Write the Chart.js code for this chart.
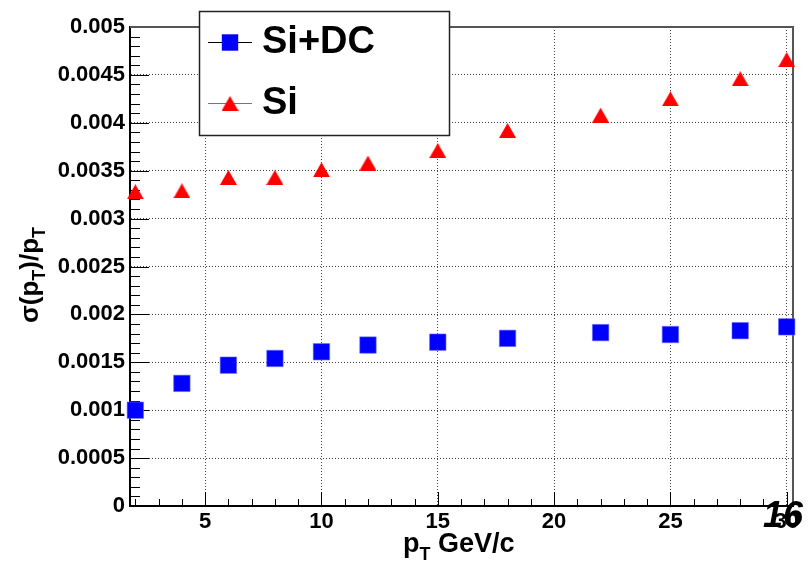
<!DOCTYPE html>
<html>
<head>
<meta charset="utf-8">
<script src="https://cdn.jsdelivr.net/npm/chart.js@4.4.1/dist/chart.umd.min.js"></script>
<style>
html, body { margin: 0; padding: 0; background: #fff; }
#wrap { width: 808px; height: 565px; }
</style>
</head>
<body>
<div id="wrap"><canvas id="resChart" width="808" height="565"></canvas></div>
<script>
// values
const pt = [2, 4, 6, 8, 10, 12, 15, 18, 22, 25, 28, 30];
const siDC = [0.00100, 0.00128, 0.00147, 0.00154, 0.00161, 0.00168, 0.00171, 0.00175, 0.00181, 0.00179, 0.00183, 0.00187];
const siOnly = [0.00328, 0.00329, 0.00343, 0.00343, 0.00351, 0.00358, 0.00371, 0.00392, 0.00408, 0.00425, 0.00446, 0.00466];
const seriesNames = ['Si+DC', 'Si'];
const xTicks = [5, 10, 15, 20, 25, 30];
const yTicks = [0, 0.0005, 0.001, 0.0015, 0.002, 0.0025, 0.003, 0.0035, 0.004, 0.0045, 0.005];

const FONT = '"Liberation Sans", Arial, Helvetica, sans-serif';

function toPoints(ys) {
    return pt.map((x, i) => ({ x: x, y: ys[i] }));
}

// ROOT style triangle: box centred on the point, not the centroid
function triangleMarker(w, h, color) {
    const c = document.createElement('canvas');
    c.width = w;
    c.height = h;
    const g = c.getContext('2d');
    g.fillStyle = color;
    g.beginPath();
    g.moveTo(w / 2, 0);
    g.lineTo(w, h);
    g.lineTo(0, h);
    g.closePath();
    g.fill();
    return c;
}
const redTriangle = triangleMarker(17, 15, '#ff0000');

// draws text made of normal and subscript parts, returns the width
function subText(ctx, parts, x, y, size) {
    let cx = x;
    parts.forEach(p => {
        const sub = p[1];
        ctx.font = 'bold ' + (sub ? Math.round(size * 0.68) : size) + 'px ' + FONT;
        ctx.fillText(p[0], cx, y + (sub ? size * 0.28 : 0));
        cx += ctx.measureText(p[0]).width;
    });
    return cx - x;
}

// ROOT look: inner ticks, frame, axis titles, legend box
const rootStyle = {
    id: 'rootStyle',
    beforeDatasetsDraw(chart) {
        const ctx = chart.ctx;
        const xs = chart.scales.x, ys = chart.scales.y;
        const a = chart.chartArea;
        ctx.save();
        ctx.strokeStyle = '#000';
        ctx.lineWidth = 1;
        ctx.beginPath();
        // y ticks, minor every 0.0001
        for (let k = 0; k <= 50; k++) {
            const py = Math.round(ys.getPixelForValue(k * 0.0001)) + 0.5;
            const len = (k % 5 === 0) ? 19 : 10;
            ctx.moveTo(a.left, py);
            ctx.lineTo(a.left + len, py);
        }
        // x ticks, minor every 1
        for (let v = 2; v <= 30; v++) {
            const px = Math.round(xs.getPixelForValue(v)) + 0.5;
            const len = (v % 5 === 0) ? 14 : 7;
            ctx.moveTo(px, a.bottom);
            ctx.lineTo(px, a.bottom - len);
        }
        ctx.stroke();

        // top and right frame
        ctx.strokeStyle = '#555';
        ctx.lineWidth = 2;
        ctx.beginPath();
        ctx.moveTo(a.left, a.top);
        ctx.lineTo(a.right, a.top);
        ctx.lineTo(a.right, a.bottom);
        ctx.stroke();
        ctx.restore();
    },
    afterDatasetsDraw(chart) {
        const ctx = chart.ctx;
        ctx.save();
        ctx.fillStyle = '#000';
        ctx.textBaseline = 'alphabetic';
        ctx.textAlign = 'left';

        // x title
        subText(ctx, [['p', 0], ['T', 1], [' GeV/c', 0]], 403, 552, 27);

        // y title
        ctx.save();
        ctx.translate(38, 323);
        ctx.rotate(-Math.PI / 2);
        subText(ctx, [['σ(p', 0], ['T', 1], [')/p', 0], ['T', 1]], 0, 0, 26);
        ctx.restore();

        // stray label over the axis end
        ctx.font = 'italic bold 36px ' + FONT;
        ctx.fillText('16', 763, 527);

        // legend
        ctx.fillStyle = '#fff';
        ctx.fillRect(199, 11, 250, 124);
        ctx.strokeStyle = '#222';
        ctx.lineWidth = 1.5;
        ctx.strokeRect(199.5, 11.5, 250, 124);
        const rows = [42, 103];
        const lineCols = ['#000', '#777'];
        chart.data.datasets.forEach((ds, i) => {
            const y = rows[i];
            ctx.strokeStyle = lineCols[i];
            ctx.lineWidth = 1;
            ctx.beginPath();
            ctx.moveTo(208, y + 0.5);
            ctx.lineTo(252, y + 0.5);
            ctx.stroke();
            ctx.fillStyle = ds.pointBackgroundColor;
            Chart.helpers.drawPoint(ctx, {
                pointStyle: ds.pointStyle,
                radius: ds.pointRadius,
                borderWidth: 0,
                rotation: 0
            }, 230, y + 0.5);
            ctx.fillStyle = '#000';
            ctx.font = 'bold 38px ' + FONT;
            ctx.textBaseline = 'middle';
            ctx.fillText(ds.label, 262, y + 1);
        });
        ctx.restore();
    }
};

const ctx = document.getElementById('resChart').getContext('2d');
new Chart(ctx, {
    type: 'scatter',
    data: {
        datasets: [
            {
                label: seriesNames[0],
                data: toPoints(siDC),
                pointStyle: 'rect',
                pointRadius: 11.6,
                pointBackgroundColor: '#0000ff',
                pointBorderColor: '#6666ff',
                pointBorderWidth: 0.6,
                showLine: false,
                clip: false
            },
            {
                label: seriesNames[1],
                data: toPoints(siOnly),
                pointStyle: redTriangle,
                pointRadius: 9,
                pointBackgroundColor: '#ff0000',
                pointBorderWidth: 0,
                showLine: false,
                clip: false
            }
        ]
    },
    options: {
        responsive: false,
        animation: false,
        events: [],
        layout: { padding: { top: 27, right: 15, left: 0, bottom: 0 } },
        plugins: {
            legend: { display: false },
            tooltip: { enabled: false }
        },
        scales: {
            x: {
                type: 'linear',
                min: 1.77,
                max: 30.27,
                afterBuildTicks: s => { s.ticks = xTicks.map(v => ({ value: v })); },
                afterFit: s => { s.height = 59; },
                grid: { color: '#444', lineWidth: 1, drawTicks: false },
                border: { display: true, color: '#000', width: 2, dash: [1, 2] },
                ticks: {
                    color: '#000',
                    padding: 3,
                    maxRotation: 0,
                    font: { family: FONT, size: 22, weight: 'bold' }
                }
            },
            y: {
                type: 'linear',
                min: 0,
                max: 0.005,
                afterBuildTicks: s => { s.ticks = yTicks.map(v => ({ value: v })); },
                afterFit: s => { s.width = 130; },
                grid: { color: '#444', lineWidth: 1, drawTicks: false },
                border: { display: true, color: '#000', width: 2, dash: [1, 2] },
                ticks: {
                    color: '#000',
                    padding: 5,
                    font: { family: FONT, size: 22, weight: 'bold' },
                    callback: v => String(+v.toFixed(4))
                }
            }
        }
    },
    plugins: [rootStyle]
});
</script>
</body>
</html>
